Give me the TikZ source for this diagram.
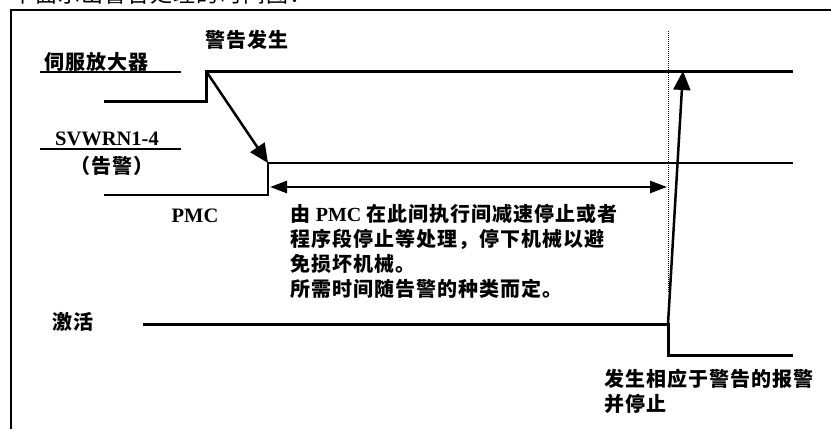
\documentclass[tikz,border=0pt]{standalone}
\usepackage{fontspec}
\setmainfont{Liberation Serif}
\newfontfamily\cjk{Noto Sans CJK SC}[LetterSpace=5]
\usetikzlibrary{arrows.meta, positioning}

\begin{document}
\begin{tikzpicture}[x=1pt, y=-1pt,
    sigline/.style={line width=3pt},
    underline/.style={line width=2.2pt},
    pointer/.style={line width=2.5pt, -{Triangle[length=19pt, width=17pt]}},
    span/.style={line width=2.5pt, {Triangle[length=17pt, width=12pt]}-{Triangle[length=17pt, width=12pt]}},
    cjklabel/.style={font=\cjk\bfseries\fontsize{20}{25}\selectfont, inner sep=0pt},
    latlabel/.style={font=\rmfamily\bfseries\fontsize{20.5}{25}\selectfont, inner sep=0pt}]
      \clip (0,0) rectangle (831,429);
      % Caption line, cut off at the top
      \node[font=\cjk\fontsize{22}{26}\selectfont, inner sep=0pt, anchor=west]
            (caption) at (12,-6) {下面示出警告处理的时间图：};
      % Frame
      \draw[line width=1.5pt] (11,429) -- (11,10) -- (831,10);
      % Signal names
      \node[cjklabel] (servo) at (97,62) {伺服放大器};
      \draw[underline] (40,72) -- (181,72);
      \node[latlabel] (svwrn) at (107,139) {SVWRN1-4};
      \draw[underline] (40,149) -- (181,149);
      \node[cjklabel] (warnlbl) at (112,166) {（告警）};
      \node[latlabel] (pmc) at (195,216) {PMC};
      \node[cjklabel] (active) at (73,322) {激活};
      \node[cjklabel] (occur) at (247,40) {警告发生};
      % Servo amplifier signal
      \coordinate (sv0) at (104,101);
      \coordinate (svup) at (206,71);
      \draw[sigline] (sv0) -- (206,101) -- (svup) -- (793,71);
      % SVWRN signal
      \coordinate (wn0) at (104,195);
      \coordinate (wnup) at (268,163);
      \draw[sigline, line width=2.7pt] (wn0) -- (268,195) -- (wnup) -- (793,163);
      % Activation signal
      \coordinate (ac0) at (143,324);
      \coordinate (acdn) at (668,324);
      \draw[sigline] (ac0) -- (acdn) -- (668,355) -- (793,355);
      % Warning triggers SVWRN
      \draw[pointer] (svup) -- (wnup);
      % Time span for PMC
      \coordinate (spanl) at (270,187);
      \coordinate (spanr) at (667,187);
      \draw[span] (spanl) -- (spanr);
      \draw[line width=1pt, dash pattern=on 1pt off 1pt] (668,31) -- (668,292);
      % Alarm raised on the servo side
      \coordinate (alarm) at (683,71);
      \draw[pointer] (acdn) -- (alarm);
      % Notes
      \node[cjklabel, align=left, anchor=north west] (note) at (290,204)
            {由 {\rmfamily PMC} 在此间执行间减速停止或者\\
             程序段停止等处理，停下机械以避\\
             免损坏机械。\\
             所需时间随告警的种类而定。};
      \node[cjklabel, align=left, anchor=north west] (stopnote) at (604,369)
            {发生相应于警告的报警\\
             并停止};
\end{tikzpicture}
\end{document}
